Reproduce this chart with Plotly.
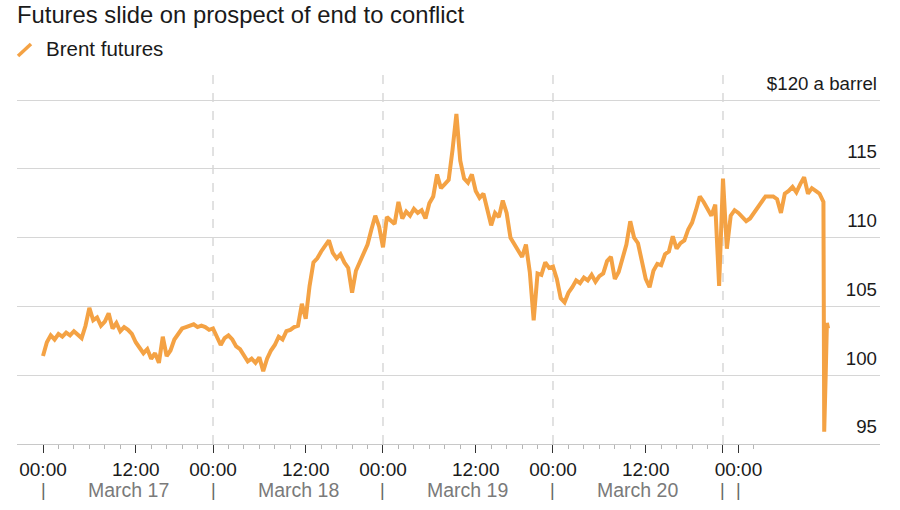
import plotly.graph_objects as go

# ---- data ----
# time axis: trading-session hours since March 17 00:00 (daily break removed)
sample_step_h = 0.5
brent_price = [
    101.4, 102.4, 102.9, 102.6, 103.0, 102.8, 103.1, 102.9, 103.2, 102.9,
    102.7, 103.6, 104.9, 104.0, 104.2, 103.6, 103.9, 104.5, 103.4, 103.8,
    103.2, 103.5, 103.3, 103.0, 102.4, 102.0, 101.6, 101.9, 101.2, 101.6,
    100.9, 102.8, 101.4, 101.8, 102.6, 103.0, 103.4, 103.5, 103.6, 103.7,
    103.5, 103.6, 103.5, 103.3, 103.4, 102.8, 102.2, 102.7, 102.9, 102.6,
    102.1, 101.9, 101.5, 101.0, 101.2, 100.9, 101.3, 100.3, 101.2, 101.8,
    102.2, 102.8, 102.6, 103.2, 103.3, 103.5, 103.6, 105.2, 104.1, 106.5,
    108.2, 108.5, 109.0, 109.4, 109.8, 108.9, 108.5, 108.8, 108.2, 107.8,
    106.0, 107.6, 108.2, 108.9, 109.5, 110.6, 111.6, 110.8, 109.3, 111.5,
    111.2, 111.0, 112.6, 111.4, 111.9, 111.6, 112.1, 111.8, 112.0, 111.4,
    112.5, 113.0, 114.6, 113.6, 113.9, 114.2, 116.4, 119.0, 115.6, 114.3,
    114.0, 114.6, 113.4, 112.9, 113.2, 112.0, 110.9, 111.8, 111.5, 112.7,
    111.8, 110.0, 109.5, 109.0, 108.6, 109.5, 107.5, 104.0, 107.4, 107.3,
    108.2, 107.8, 107.9, 107.0, 105.6, 105.3, 106.0, 106.4, 106.9, 106.7,
    107.1, 106.9, 107.3, 106.8, 107.2, 107.4, 108.3, 108.6, 107.0, 107.5,
    108.6, 109.5, 111.2, 110.0, 109.6, 108.2, 107.0, 106.4, 107.6, 108.1,
    108.0, 108.8, 109.0, 110.1, 109.2, 109.6, 109.8, 110.6, 111.1, 112.0,
    113.0, 112.6, 112.1, 111.6, 112.4, 106.5, 114.3, 109.2, 111.6, 112.0,
    111.8, 111.5, 111.2, 111.4, 111.8, 112.2, 112.6, 113.0, 113.0, 113.0,
    112.8, 111.8, 113.2, 113.4, 113.7, 113.3, 113.9, 114.4, 113.2, 113.6,
    113.4, 113.2, 112.6,
]
# final minutes: the plunge and partial rebound
tail_hours = [101.1, 101.3, 101.45, 101.6]
tail_price = [95.9, 100.2, 103.8, 103.4]

hours = [i * sample_step_h for i in range(len(brent_price))] + tail_hours
prices = brent_price + tail_price

# axis ticks (session hours)
major_tick_hours = [0, 12, 22, 34, 44, 56, 66, 78, 88, 90]
major_tick_labels = ["00:00", "12:00", "00:00", "12:00", "00:00", "12:00",
                     "00:00", "12:00", "", "00:00"]
day_marks = [True, False, True, False, True, False, True, False, True, True]
minor_tick_hours = [2, 4, 6, 8, 10, 14, 16, 18, 20, 24, 26, 28, 30, 32,
                    36, 38, 40, 42, 46, 48, 50, 52, 54, 58, 60, 62, 64,
                    68, 70, 72, 74, 76, 80, 82, 84, 86, 92, 94, 96, 98, 100]
day_boundaries = [22, 44, 66, 88]
day_labels = ["March 17", "March 18", "March 19", "March 20"]
day_label_hours = [11, 33, 55, 77]

y_tick_vals = [95, 100, 105, 110, 115, 120]
y_tick_text = ["95", "100", "105", "110", "115", "$120 a barrel"]

ORANGE = "#F4A244"
FONT = "Liberation Sans, Arial, sans-serif"

fig = go.Figure()
fig.add_trace(go.Scatter(
    x=hours, y=prices, mode="lines", name="Brent futures",
    line=dict(color=ORANGE, width=4), showlegend=False,
))

for h in day_boundaries:
    fig.add_vline(x=h, line=dict(color="#c4c4c4", width=1, dash="dash"), layer="below")

fig.update_xaxes(
    range=[-3.365, 108.32],
    tickmode="array", tickvals=major_tick_hours, ticktext=major_tick_labels,
    tickangle=0, automargin=False,
    ticks="outside", ticklen=8, tickwidth=1.3, tickcolor="#333",
    showline=True, linecolor="#c8c8c8", linewidth=1.2,
    showgrid=False, zeroline=False,
    tickfont=dict(family=FONT, size=19, color="#1a1a1a"),
    minor=dict(tickmode="array", tickvals=minor_tick_hours, ticks="outside",
               ticklen=4, tickcolor="#b5b5b5", tickwidth=1, showgrid=False),
)
fig.update_yaxes(
    range=[95, 122.05], side="right", automargin=False,
    tickmode="array", tickvals=y_tick_vals, ticktext=y_tick_text,
    ticklabelposition="inside top", ticks="", ticklabelshift=-4,
    showgrid=True, gridcolor="#d6d6d6", gridwidth=1,
    zeroline=False, showline=False,
    tickfont=dict(family=FONT, size=18.7, color="#1a1a1a"),
)

# second row under the time labels: day separators and day names
for h, mark in zip(major_tick_hours, day_marks):
    if mark:
        fig.add_annotation(x=h, xref="x", y=0, yref="paper", yshift=-46,
                           text="|", showarrow=False, yanchor="middle",
                           font=dict(family=FONT, size=18, color="#666"))
for lab, h in zip(day_labels, day_label_hours):
    fig.add_annotation(x=h, xref="x", y=0, yref="paper", yshift=-46,
                       text=lab, showarrow=False, yanchor="middle",
                       font=dict(family=FONT, size=19.5, color="#7a7a7a"))

# legend entry (slash icon + label)
fig.add_shape(type="line", xref="paper", yref="paper",
              x0=0.0012, y0=1.043, x1=0.0162, y1=1.0753,
              line=dict(color=ORANGE, width=3.5))
fig.add_annotation(x=0.0313, xref="paper", y=1.0645, yref="paper",
                   text="Brent futures", showarrow=False,
                   xanchor="left", yanchor="middle",
                   font=dict(family=FONT, size=20.5, color="#1a1a1a"))

fig.update_layout(
    width=900, height=510,
    margin=dict(l=17, r=20, t=72, b=66, autoexpand=False),
    paper_bgcolor="white", plot_bgcolor="white",
    title=dict(text="Futures slide on prospect of end to conflict",
               x=17 / 900, xanchor="left", xref="container",
               y=1 - 15 / 510, yanchor="middle", automargin=False,
               font=dict(family=FONT, size=23.8, color="#1a1a1a")),
    showlegend=False,
)

fig.write_html(
    "out.html",
    config={"displayModeBar": False},
    post_script="document.body.style.margin='0';document.body.style.overflow='hidden';",
)
